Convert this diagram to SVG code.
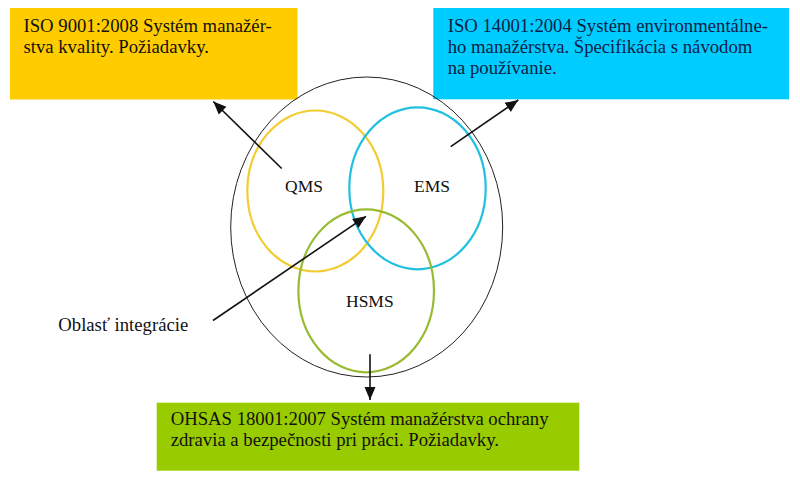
<svg xmlns="http://www.w3.org/2000/svg" width="800" height="490" viewBox="0 0 800 490">
<style>
.t{font-family:"Liberation Serif","Times New Roman",serif;font-size:18.7px;fill:#111}
.lbl{font-family:"Liberation Serif","Times New Roman",serif;font-size:17.5px;fill:#111}
.conn{stroke:#111;stroke-width:1.6;fill:none;marker-end:url(#ah)}
</style>
<defs>
<marker id="ah" markerUnits="userSpaceOnUse" markerWidth="14" markerHeight="12" refX="13" refY="5.5" orient="auto" viewBox="0 0 14 11">
<path d="M0,0 L13,5.5 L0,11 z" fill="#111"/>
</marker>
</defs>
<rect width="800" height="490" fill="#fff"/>
<g id="qms-box">
<rect x="10" y="8" width="287.5" height="91.5" fill="#FFCC00"/>
<text class="t" x="23.5" y="32.3">ISO 9001:2008 Systém manažér-</text>
<text class="t" x="23.5" y="53.3">stva kvality. Požiadavky.</text>
</g>
<g id="ems-box">
<rect x="433.3" y="8" width="355.7" height="91.3" fill="#00CCFF"/>
<text class="t" x="447.7" y="32" style="fill:#0d1d45">ISO 14001:2004 Systém environmentálne-</text>
<text class="t" x="447.7" y="53.2" style="fill:#0d1d45">ho manažérstva. Špecifikácia s návodom</text>
<text class="t" x="447.7" y="73.5" style="fill:#0d1d45">na používanie.</text>
</g>
<g id="hsms-box">
<rect x="156.7" y="402.7" width="422.6" height="68" fill="#99CC00"/>
<text class="t" x="170.7" y="425">OHSAS 18001:2007 Systém manažérstva ochrany</text>
<text class="t" x="170.7" y="446">zdravia a bezpečnosti pri práci. Požiadavky.</text>
</g>
<g id="integration-area">
<ellipse cx="366.7" cy="227" rx="136" ry="150" fill="none" stroke="#222" stroke-width="1"/>
</g>
<g id="qms">
<ellipse cx="315.3" cy="191" rx="68" ry="80.5" fill="none" stroke="#F2CC30" stroke-width="2.2"/>
<text class="lbl" x="285" y="192.3">QMS</text>
</g>
<g id="ems">
<ellipse cx="417.5" cy="188.3" rx="68.2" ry="81" fill="none" stroke="#20C0E0" stroke-width="2.2"/>
<text class="lbl" x="414" y="192.3">EMS</text>
</g>
<g id="hsms">
<ellipse cx="366.2" cy="290.8" rx="67.8" ry="81.5" fill="none" stroke="#99BB33" stroke-width="2.2"/>
<text class="lbl" x="346" y="307">HSMS</text>
</g>
<g id="label-integration">
<text class="t" x="58.3" y="330.7">Oblasť integrácie</text>
</g>
<g id="connectors">
<line class="conn" x1="281.7" y1="168.5" x2="213.3" y2="101.5"/>
<line class="conn" x1="450.7" y1="146.7" x2="518.3" y2="100"/>
<line class="conn" x1="213" y1="320.5" x2="366" y2="216.3"/>
<line class="conn" x1="370" y1="354.3" x2="370" y2="400"/>
</g>
</svg>
